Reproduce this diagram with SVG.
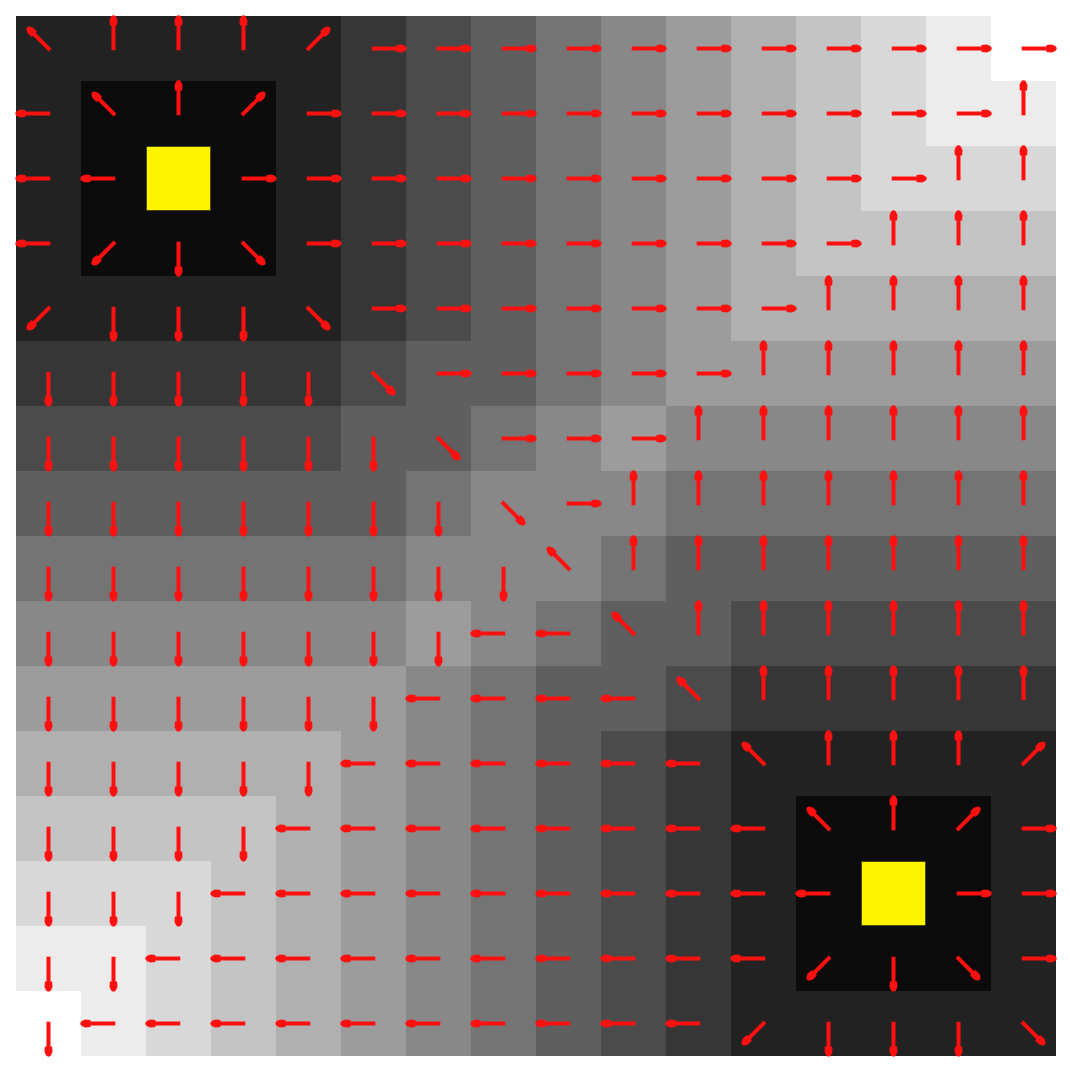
<svg xmlns="http://www.w3.org/2000/svg" xmlns:xlink="http://www.w3.org/1999/xlink" width="1070" height="1072" viewBox="0 0 1070 1072">
<style>
.g1{fill:#0b0b0b}.g2{fill:#222222}.g3{fill:#363636}.g4{fill:#4b4b4b}.g5{fill:#5f5f5f}.g6{fill:#747474}.g7{fill:#888888}
.g8{fill:#9c9c9c}.g9{fill:#b0b0b0}.g10{fill:#c4c4c4}.g11{fill:#d8d8d8}.g12{fill:#ececec}.g13{fill:#ffffff}
.goal{fill:#fff400;stroke:#4a4a00;stroke-width:1}
.sh{stroke:#ff1010;stroke-width:4;fill:none}
.hd{fill:#ff1010}
</style>
<defs>
<g id="s"><path class="sh" d="M-1.8,0H26"/><path class="hd" d="M23,-3.6L28,-4Q33.2,-2.6 33.2,0Q33.2,2.6 28,4L23,3.6Z"/></g>
<g id="dg"><path class="sh" d="M-2.2,0H23"/><path class="hd" d="M20,-3.6L25,-4Q30.2,-2.6 30.2,0Q30.2,2.6 25,4L20,3.6Z"/></g>
<use id="r" href="#s"/>
<use id="d" href="#s" transform="rotate(90)"/>
<use id="l" href="#s" transform="rotate(180)"/>
<use id="u" href="#s" transform="rotate(-90)"/>
<use id="dr" href="#dg" transform="rotate(45)"/>
<use id="dl" href="#dg" transform="rotate(135)"/>
<use id="ul" href="#dg" transform="rotate(-135)"/>
<use id="ur" href="#dg" transform="rotate(-45)"/>
</defs>
<rect width="1070" height="1072" fill="#ffffff"/>
<g id="cells">
<rect class="g2" x="16" y="16" width="325" height="65"/><rect class="g3" x="341" y="16" width="65" height="65"/><rect class="g4" x="406" y="16" width="65" height="65"/><rect class="g5" x="471" y="16" width="65" height="65"/><rect class="g6" x="536" y="16" width="65" height="65"/><rect class="g7" x="601" y="16" width="65" height="65"/><rect class="g8" x="666" y="16" width="65" height="65"/><rect class="g9" x="731" y="16" width="65" height="65"/><rect class="g10" x="796" y="16" width="65" height="65"/><rect class="g11" x="861" y="16" width="65" height="65"/><rect class="g12" x="926" y="16" width="65" height="65"/><rect class="g13" x="991" y="16" width="65" height="65"/>
<rect class="g2" x="16" y="81" width="65" height="65"/><rect class="g1" x="81" y="81" width="195" height="65"/><rect class="g2" x="276" y="81" width="65" height="65"/><rect class="g3" x="341" y="81" width="65" height="65"/><rect class="g4" x="406" y="81" width="65" height="65"/><rect class="g5" x="471" y="81" width="65" height="65"/><rect class="g6" x="536" y="81" width="65" height="65"/><rect class="g7" x="601" y="81" width="65" height="65"/><rect class="g8" x="666" y="81" width="65" height="65"/><rect class="g9" x="731" y="81" width="65" height="65"/><rect class="g10" x="796" y="81" width="65" height="65"/><rect class="g11" x="861" y="81" width="65" height="65"/><rect class="g12" x="926" y="81" width="130" height="65"/>
<rect class="g2" x="16" y="146" width="65" height="65"/><rect class="g1" x="81" y="146" width="195" height="65"/><rect class="g2" x="276" y="146" width="65" height="65"/><rect class="g3" x="341" y="146" width="65" height="65"/><rect class="g4" x="406" y="146" width="65" height="65"/><rect class="g5" x="471" y="146" width="65" height="65"/><rect class="g6" x="536" y="146" width="65" height="65"/><rect class="g7" x="601" y="146" width="65" height="65"/><rect class="g8" x="666" y="146" width="65" height="65"/><rect class="g9" x="731" y="146" width="65" height="65"/><rect class="g10" x="796" y="146" width="65" height="65"/><rect class="g11" x="861" y="146" width="195" height="65"/>
<rect class="g2" x="16" y="211" width="65" height="65"/><rect class="g1" x="81" y="211" width="195" height="65"/><rect class="g2" x="276" y="211" width="65" height="65"/><rect class="g3" x="341" y="211" width="65" height="65"/><rect class="g4" x="406" y="211" width="65" height="65"/><rect class="g5" x="471" y="211" width="65" height="65"/><rect class="g6" x="536" y="211" width="65" height="65"/><rect class="g7" x="601" y="211" width="65" height="65"/><rect class="g8" x="666" y="211" width="65" height="65"/><rect class="g9" x="731" y="211" width="65" height="65"/><rect class="g10" x="796" y="211" width="260" height="65"/>
<rect class="g2" x="16" y="276" width="325" height="65"/><rect class="g3" x="341" y="276" width="65" height="65"/><rect class="g4" x="406" y="276" width="65" height="65"/><rect class="g5" x="471" y="276" width="65" height="65"/><rect class="g6" x="536" y="276" width="65" height="65"/><rect class="g7" x="601" y="276" width="65" height="65"/><rect class="g8" x="666" y="276" width="65" height="65"/><rect class="g9" x="731" y="276" width="325" height="65"/>
<rect class="g3" x="16" y="341" width="325" height="65"/><rect class="g4" x="341" y="341" width="65" height="65"/><rect class="g5" x="406" y="341" width="130" height="65"/><rect class="g6" x="536" y="341" width="65" height="65"/><rect class="g7" x="601" y="341" width="65" height="65"/><rect class="g8" x="666" y="341" width="390" height="65"/>
<rect class="g4" x="16" y="406" width="325" height="65"/><rect class="g5" x="341" y="406" width="130" height="65"/><rect class="g6" x="471" y="406" width="65" height="65"/><rect class="g7" x="536" y="406" width="65" height="65"/><rect class="g8" x="601" y="406" width="65" height="65"/><rect class="g7" x="666" y="406" width="390" height="65"/>
<rect class="g5" x="16" y="471" width="390" height="65"/><rect class="g6" x="406" y="471" width="65" height="65"/><rect class="g7" x="471" y="471" width="195" height="65"/><rect class="g6" x="666" y="471" width="390" height="65"/>
<rect class="g6" x="16" y="536" width="390" height="65"/><rect class="g7" x="406" y="536" width="195" height="65"/><rect class="g6" x="601" y="536" width="65" height="65"/><rect class="g5" x="666" y="536" width="390" height="65"/>
<rect class="g7" x="16" y="601" width="390" height="65"/><rect class="g8" x="406" y="601" width="65" height="65"/><rect class="g7" x="471" y="601" width="65" height="65"/><rect class="g6" x="536" y="601" width="65" height="65"/><rect class="g5" x="601" y="601" width="130" height="65"/><rect class="g4" x="731" y="601" width="325" height="65"/>
<rect class="g8" x="16" y="666" width="390" height="65"/><rect class="g7" x="406" y="666" width="65" height="65"/><rect class="g6" x="471" y="666" width="65" height="65"/><rect class="g5" x="536" y="666" width="130" height="65"/><rect class="g4" x="666" y="666" width="65" height="65"/><rect class="g3" x="731" y="666" width="325" height="65"/>
<rect class="g9" x="16" y="731" width="325" height="65"/><rect class="g8" x="341" y="731" width="65" height="65"/><rect class="g7" x="406" y="731" width="65" height="65"/><rect class="g6" x="471" y="731" width="65" height="65"/><rect class="g5" x="536" y="731" width="65" height="65"/><rect class="g4" x="601" y="731" width="65" height="65"/><rect class="g3" x="666" y="731" width="65" height="65"/><rect class="g2" x="731" y="731" width="325" height="65"/>
<rect class="g10" x="16" y="796" width="260" height="65"/><rect class="g9" x="276" y="796" width="65" height="65"/><rect class="g8" x="341" y="796" width="65" height="65"/><rect class="g7" x="406" y="796" width="65" height="65"/><rect class="g6" x="471" y="796" width="65" height="65"/><rect class="g5" x="536" y="796" width="65" height="65"/><rect class="g4" x="601" y="796" width="65" height="65"/><rect class="g3" x="666" y="796" width="65" height="65"/><rect class="g2" x="731" y="796" width="65" height="65"/><rect class="g1" x="796" y="796" width="195" height="65"/><rect class="g2" x="991" y="796" width="65" height="65"/>
<rect class="g11" x="16" y="861" width="195" height="65"/><rect class="g10" x="211" y="861" width="65" height="65"/><rect class="g9" x="276" y="861" width="65" height="65"/><rect class="g8" x="341" y="861" width="65" height="65"/><rect class="g7" x="406" y="861" width="65" height="65"/><rect class="g6" x="471" y="861" width="65" height="65"/><rect class="g5" x="536" y="861" width="65" height="65"/><rect class="g4" x="601" y="861" width="65" height="65"/><rect class="g3" x="666" y="861" width="65" height="65"/><rect class="g2" x="731" y="861" width="65" height="65"/><rect class="g1" x="796" y="861" width="195" height="65"/><rect class="g2" x="991" y="861" width="65" height="65"/>
<rect class="g12" x="16" y="926" width="130" height="65"/><rect class="g11" x="146" y="926" width="65" height="65"/><rect class="g10" x="211" y="926" width="65" height="65"/><rect class="g9" x="276" y="926" width="65" height="65"/><rect class="g8" x="341" y="926" width="65" height="65"/><rect class="g7" x="406" y="926" width="65" height="65"/><rect class="g6" x="471" y="926" width="65" height="65"/><rect class="g5" x="536" y="926" width="65" height="65"/><rect class="g4" x="601" y="926" width="65" height="65"/><rect class="g3" x="666" y="926" width="65" height="65"/><rect class="g2" x="731" y="926" width="65" height="65"/><rect class="g1" x="796" y="926" width="195" height="65"/><rect class="g2" x="991" y="926" width="65" height="65"/>
<rect class="g13" x="16" y="991" width="65" height="65"/><rect class="g12" x="81" y="991" width="65" height="65"/><rect class="g11" x="146" y="991" width="65" height="65"/><rect class="g10" x="211" y="991" width="65" height="65"/><rect class="g9" x="276" y="991" width="65" height="65"/><rect class="g8" x="341" y="991" width="65" height="65"/><rect class="g7" x="406" y="991" width="65" height="65"/><rect class="g6" x="471" y="991" width="65" height="65"/><rect class="g5" x="536" y="991" width="65" height="65"/><rect class="g4" x="601" y="991" width="65" height="65"/><rect class="g3" x="666" y="991" width="65" height="65"/><rect class="g2" x="731" y="991" width="325" height="65"/>
</g>
<g id="goals">
<rect class="goal" x="146.5" y="146.5" width="64" height="64"/>
<rect class="goal" x="861.5" y="861.5" width="64" height="64"/>
</g>
<g id="arrows">
<use href="#ul" x="48.5" y="48.5"/><use href="#u" x="113.5" y="48.5"/><use href="#u" x="178.5" y="48.5"/><use href="#u" x="243.5" y="48.5"/><use href="#ur" x="308.5" y="48.5"/><use href="#r" x="373.5" y="48.5"/><use href="#r" x="438.5" y="48.5"/><use href="#r" x="503.5" y="48.5"/><use href="#r" x="568.5" y="48.5"/><use href="#r" x="633.5" y="48.5"/><use href="#r" x="698.5" y="48.5"/><use href="#r" x="763.5" y="48.5"/><use href="#r" x="828.5" y="48.5"/><use href="#r" x="893.5" y="48.5"/><use href="#r" x="958.5" y="48.5"/><use href="#r" x="1023.5" y="48.5"/>
<use href="#l" x="48.5" y="113.5"/><use href="#ul" x="113.5" y="113.5"/><use href="#u" x="178.5" y="113.5"/><use href="#ur" x="243.5" y="113.5"/><use href="#r" x="308.5" y="113.5"/><use href="#r" x="373.5" y="113.5"/><use href="#r" x="438.5" y="113.5"/><use href="#r" x="503.5" y="113.5"/><use href="#r" x="568.5" y="113.5"/><use href="#r" x="633.5" y="113.5"/><use href="#r" x="698.5" y="113.5"/><use href="#r" x="763.5" y="113.5"/><use href="#r" x="828.5" y="113.5"/><use href="#r" x="893.5" y="113.5"/><use href="#r" x="958.5" y="113.5"/><use href="#u" x="1023.5" y="113.5"/>
<use href="#l" x="48.5" y="178.5"/><use href="#l" x="113.5" y="178.5"/><use href="#r" x="243.5" y="178.5"/><use href="#r" x="308.5" y="178.5"/><use href="#r" x="373.5" y="178.5"/><use href="#r" x="438.5" y="178.5"/><use href="#r" x="503.5" y="178.5"/><use href="#r" x="568.5" y="178.5"/><use href="#r" x="633.5" y="178.5"/><use href="#r" x="698.5" y="178.5"/><use href="#r" x="763.5" y="178.5"/><use href="#r" x="828.5" y="178.5"/><use href="#r" x="893.5" y="178.5"/><use href="#u" x="958.5" y="178.5"/><use href="#u" x="1023.5" y="178.5"/>
<use href="#l" x="48.5" y="243.5"/><use href="#dl" x="113.5" y="243.5"/><use href="#d" x="178.5" y="243.5"/><use href="#dr" x="243.5" y="243.5"/><use href="#r" x="308.5" y="243.5"/><use href="#r" x="373.5" y="243.5"/><use href="#r" x="438.5" y="243.5"/><use href="#r" x="503.5" y="243.5"/><use href="#r" x="568.5" y="243.5"/><use href="#r" x="633.5" y="243.5"/><use href="#r" x="698.5" y="243.5"/><use href="#r" x="763.5" y="243.5"/><use href="#r" x="828.5" y="243.5"/><use href="#u" x="893.5" y="243.5"/><use href="#u" x="958.5" y="243.5"/><use href="#u" x="1023.5" y="243.5"/>
<use href="#dl" x="48.5" y="308.5"/><use href="#d" x="113.5" y="308.5"/><use href="#d" x="178.5" y="308.5"/><use href="#d" x="243.5" y="308.5"/><use href="#dr" x="308.5" y="308.5"/><use href="#r" x="373.5" y="308.5"/><use href="#r" x="438.5" y="308.5"/><use href="#r" x="503.5" y="308.5"/><use href="#r" x="568.5" y="308.5"/><use href="#r" x="633.5" y="308.5"/><use href="#r" x="698.5" y="308.5"/><use href="#r" x="763.5" y="308.5"/><use href="#u" x="828.5" y="308.5"/><use href="#u" x="893.5" y="308.5"/><use href="#u" x="958.5" y="308.5"/><use href="#u" x="1023.5" y="308.5"/>
<use href="#d" x="48.5" y="373.5"/><use href="#d" x="113.5" y="373.5"/><use href="#d" x="178.5" y="373.5"/><use href="#d" x="243.5" y="373.5"/><use href="#d" x="308.5" y="373.5"/><use href="#dr" x="373.5" y="373.5"/><use href="#r" x="438.5" y="373.5"/><use href="#r" x="503.5" y="373.5"/><use href="#r" x="568.5" y="373.5"/><use href="#r" x="633.5" y="373.5"/><use href="#r" x="698.5" y="373.5"/><use href="#u" x="763.5" y="373.5"/><use href="#u" x="828.5" y="373.5"/><use href="#u" x="893.5" y="373.5"/><use href="#u" x="958.5" y="373.5"/><use href="#u" x="1023.5" y="373.5"/>
<use href="#d" x="48.5" y="438.5"/><use href="#d" x="113.5" y="438.5"/><use href="#d" x="178.5" y="438.5"/><use href="#d" x="243.5" y="438.5"/><use href="#d" x="308.5" y="438.5"/><use href="#d" x="373.5" y="438.5"/><use href="#dr" x="438.5" y="438.5"/><use href="#r" x="503.5" y="438.5"/><use href="#r" x="568.5" y="438.5"/><use href="#r" x="633.5" y="438.5"/><use href="#u" x="698.5" y="438.5"/><use href="#u" x="763.5" y="438.5"/><use href="#u" x="828.5" y="438.5"/><use href="#u" x="893.5" y="438.5"/><use href="#u" x="958.5" y="438.5"/><use href="#u" x="1023.5" y="438.5"/>
<use href="#d" x="48.5" y="503.5"/><use href="#d" x="113.5" y="503.5"/><use href="#d" x="178.5" y="503.5"/><use href="#d" x="243.5" y="503.5"/><use href="#d" x="308.5" y="503.5"/><use href="#d" x="373.5" y="503.5"/><use href="#d" x="438.5" y="503.5"/><use href="#dr" x="503.5" y="503.5"/><use href="#r" x="568.5" y="503.5"/><use href="#u" x="633.5" y="503.5"/><use href="#u" x="698.5" y="503.5"/><use href="#u" x="763.5" y="503.5"/><use href="#u" x="828.5" y="503.5"/><use href="#u" x="893.5" y="503.5"/><use href="#u" x="958.5" y="503.5"/><use href="#u" x="1023.5" y="503.5"/>
<use href="#d" x="48.5" y="568.5"/><use href="#d" x="113.5" y="568.5"/><use href="#d" x="178.5" y="568.5"/><use href="#d" x="243.5" y="568.5"/><use href="#d" x="308.5" y="568.5"/><use href="#d" x="373.5" y="568.5"/><use href="#d" x="438.5" y="568.5"/><use href="#d" x="503.5" y="568.5"/><use href="#ul" x="568.5" y="568.5"/><use href="#u" x="633.5" y="568.5"/><use href="#u" x="698.5" y="568.5"/><use href="#u" x="763.5" y="568.5"/><use href="#u" x="828.5" y="568.5"/><use href="#u" x="893.5" y="568.5"/><use href="#u" x="958.5" y="568.5"/><use href="#u" x="1023.5" y="568.5"/>
<use href="#d" x="48.5" y="633.5"/><use href="#d" x="113.5" y="633.5"/><use href="#d" x="178.5" y="633.5"/><use href="#d" x="243.5" y="633.5"/><use href="#d" x="308.5" y="633.5"/><use href="#d" x="373.5" y="633.5"/><use href="#d" x="438.5" y="633.5"/><use href="#l" x="503.5" y="633.5"/><use href="#l" x="568.5" y="633.5"/><use href="#ul" x="633.5" y="633.5"/><use href="#u" x="698.5" y="633.5"/><use href="#u" x="763.5" y="633.5"/><use href="#u" x="828.5" y="633.5"/><use href="#u" x="893.5" y="633.5"/><use href="#u" x="958.5" y="633.5"/><use href="#u" x="1023.5" y="633.5"/>
<use href="#d" x="48.5" y="698.5"/><use href="#d" x="113.5" y="698.5"/><use href="#d" x="178.5" y="698.5"/><use href="#d" x="243.5" y="698.5"/><use href="#d" x="308.5" y="698.5"/><use href="#d" x="373.5" y="698.5"/><use href="#l" x="438.5" y="698.5"/><use href="#l" x="503.5" y="698.5"/><use href="#l" x="568.5" y="698.5"/><use href="#l" x="633.5" y="698.5"/><use href="#ul" x="698.5" y="698.5"/><use href="#u" x="763.5" y="698.5"/><use href="#u" x="828.5" y="698.5"/><use href="#u" x="893.5" y="698.5"/><use href="#u" x="958.5" y="698.5"/><use href="#u" x="1023.5" y="698.5"/>
<use href="#d" x="48.5" y="763.5"/><use href="#d" x="113.5" y="763.5"/><use href="#d" x="178.5" y="763.5"/><use href="#d" x="243.5" y="763.5"/><use href="#d" x="308.5" y="763.5"/><use href="#l" x="373.5" y="763.5"/><use href="#l" x="438.5" y="763.5"/><use href="#l" x="503.5" y="763.5"/><use href="#l" x="568.5" y="763.5"/><use href="#l" x="633.5" y="763.5"/><use href="#l" x="698.5" y="763.5"/><use href="#ul" x="763.5" y="763.5"/><use href="#u" x="828.5" y="763.5"/><use href="#u" x="893.5" y="763.5"/><use href="#u" x="958.5" y="763.5"/><use href="#ur" x="1023.5" y="763.5"/>
<use href="#d" x="48.5" y="828.5"/><use href="#d" x="113.5" y="828.5"/><use href="#d" x="178.5" y="828.5"/><use href="#d" x="243.5" y="828.5"/><use href="#l" x="308.5" y="828.5"/><use href="#l" x="373.5" y="828.5"/><use href="#l" x="438.5" y="828.5"/><use href="#l" x="503.5" y="828.5"/><use href="#l" x="568.5" y="828.5"/><use href="#l" x="633.5" y="828.5"/><use href="#l" x="698.5" y="828.5"/><use href="#l" x="763.5" y="828.5"/><use href="#ul" x="828.5" y="828.5"/><use href="#u" x="893.5" y="828.5"/><use href="#ur" x="958.5" y="828.5"/><use href="#r" x="1023.5" y="828.5"/>
<use href="#d" x="48.5" y="893.5"/><use href="#d" x="113.5" y="893.5"/><use href="#d" x="178.5" y="893.5"/><use href="#l" x="243.5" y="893.5"/><use href="#l" x="308.5" y="893.5"/><use href="#l" x="373.5" y="893.5"/><use href="#l" x="438.5" y="893.5"/><use href="#l" x="503.5" y="893.5"/><use href="#l" x="568.5" y="893.5"/><use href="#l" x="633.5" y="893.5"/><use href="#l" x="698.5" y="893.5"/><use href="#l" x="763.5" y="893.5"/><use href="#l" x="828.5" y="893.5"/><use href="#r" x="958.5" y="893.5"/><use href="#r" x="1023.5" y="893.5"/>
<use href="#d" x="48.5" y="958.5"/><use href="#d" x="113.5" y="958.5"/><use href="#l" x="178.5" y="958.5"/><use href="#l" x="243.5" y="958.5"/><use href="#l" x="308.5" y="958.5"/><use href="#l" x="373.5" y="958.5"/><use href="#l" x="438.5" y="958.5"/><use href="#l" x="503.5" y="958.5"/><use href="#l" x="568.5" y="958.5"/><use href="#l" x="633.5" y="958.5"/><use href="#l" x="698.5" y="958.5"/><use href="#l" x="763.5" y="958.5"/><use href="#dl" x="828.5" y="958.5"/><use href="#d" x="893.5" y="958.5"/><use href="#dr" x="958.5" y="958.5"/><use href="#r" x="1023.5" y="958.5"/>
<use href="#d" x="48.5" y="1023.5"/><use href="#l" x="113.5" y="1023.5"/><use href="#l" x="178.5" y="1023.5"/><use href="#l" x="243.5" y="1023.5"/><use href="#l" x="308.5" y="1023.5"/><use href="#l" x="373.5" y="1023.5"/><use href="#l" x="438.5" y="1023.5"/><use href="#l" x="503.5" y="1023.5"/><use href="#l" x="568.5" y="1023.5"/><use href="#l" x="633.5" y="1023.5"/><use href="#l" x="698.5" y="1023.5"/><use href="#dl" x="763.5" y="1023.5"/><use href="#d" x="828.5" y="1023.5"/><use href="#d" x="893.5" y="1023.5"/><use href="#d" x="958.5" y="1023.5"/><use href="#dr" x="1023.5" y="1023.5"/>
</g>
</svg>
